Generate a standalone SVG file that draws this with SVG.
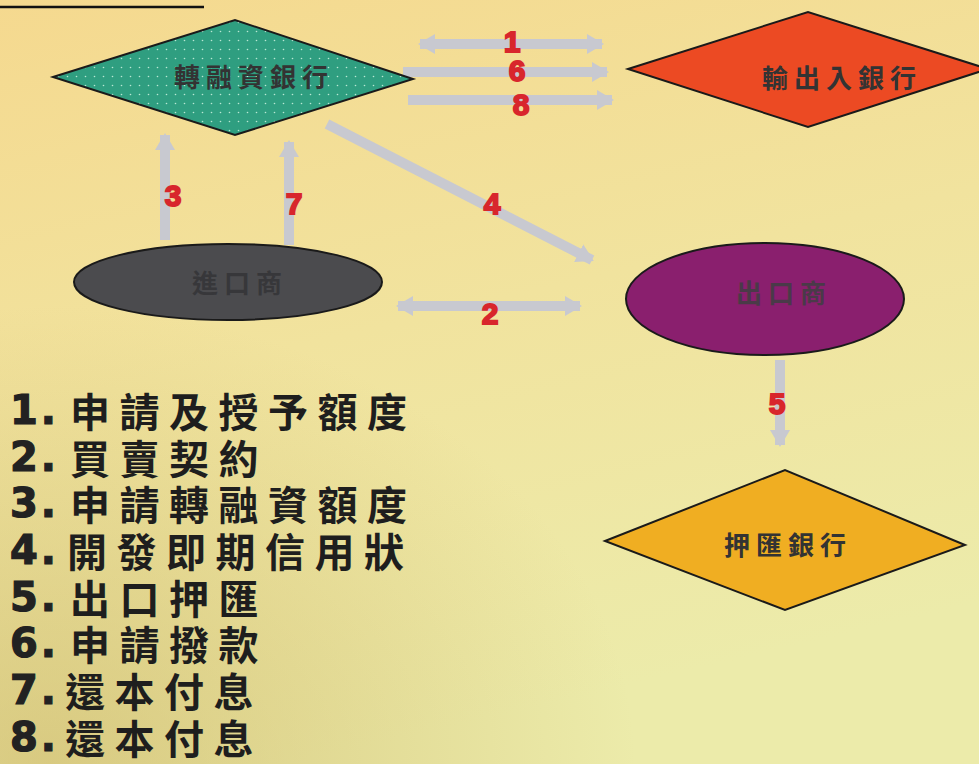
<svg xmlns="http://www.w3.org/2000/svg" width="979" height="764" viewBox="0 0 979 764">
<style>
.node{stroke:#1a1a1a;stroke-width:2}
.ntext{font-family:"Noto Sans CJK TC","Noto Sans CJK SC",sans-serif;font-weight:700;font-size:26px;fill:#333333;text-anchor:middle;letter-spacing:6px}
.conn{stroke:#c8c9d0;stroke-width:10;fill:none}
.num{font-family:"Liberation Sans",Arial,sans-serif;font-weight:700;font-size:30px;fill:#d8262c;text-anchor:middle;stroke:#d8262c;stroke-width:1.8}
.legd{font-family:"DejaVu Sans","Liberation Sans",sans-serif;font-weight:700;font-size:40px;fill:#222222;stroke:#222222;stroke-width:1.2;letter-spacing:3px}
.legc{font-family:"Noto Sans CJK TC","Noto Sans CJK SC",sans-serif;font-weight:700;font-size:40px;fill:#1e1e1e;letter-spacing:9.5px}
</style>
<defs>
<linearGradient id="bg" x1="0" y1="0" x2="0.3" y2="1">
<stop offset="0" stop-color="#f5d98f"/>
<stop offset="0.5" stop-color="#f1e39e"/>
<stop offset="1" stop-color="#ecebaa"/>
</linearGradient>
<radialGradient id="shade" cx="0.05" cy="1" r="0.6">
<stop offset="0" stop-color="#c8b060" stop-opacity="0.55"/>
<stop offset="1" stop-color="#c8b060" stop-opacity="0"/>
</radialGradient>
<pattern id="dots" width="9" height="9" patternUnits="userSpaceOnUse">
<rect width="9" height="9" fill="#2f9e80"/>
<circle cx="4.5" cy="4.5" r="0.8" fill="#b8e8d4"/>
</pattern>
<marker id="ah" markerUnits="userSpaceOnUse" markerWidth="17" markerHeight="20" refX="15" refY="10" orient="auto-start-reverse">
<path d="M0,0 L17,10 L0,20 z" fill="#c8c9d0"/>
</marker>
</defs>
<rect width="979" height="764" fill="url(#bg)"/>
<rect width="979" height="764" fill="url(#shade)"/>
<line x1="0" y1="7" x2="204" y2="7" stroke="#111" stroke-width="2.5"/>

<g id="connectors">
<line class="conn" x1="420" y1="44" x2="602" y2="44" marker-start="url(#ah)" marker-end="url(#ah)"/>
<line class="conn" x1="403" y1="72" x2="607" y2="72" marker-end="url(#ah)"/>
<line class="conn" x1="408" y1="100" x2="612" y2="100" marker-end="url(#ah)"/>
<line class="conn" x1="165" y1="240" x2="165" y2="135" marker-end="url(#ah)"/>
<line class="conn" x1="289" y1="245" x2="289" y2="142" marker-end="url(#ah)"/>
<line class="conn" x1="327" y1="124" x2="592" y2="260" marker-end="url(#ah)"/>
<line class="conn" x1="398" y1="306" x2="580" y2="306" marker-start="url(#ah)" marker-end="url(#ah)"/>
<line class="conn" x1="780" y1="360" x2="780" y2="445" marker-end="url(#ah)"/>
<text class="num" x="512" y="52">1</text>
<text class="num" x="517" y="81">6</text>
<text class="num" x="521" y="115">8</text>
<text class="num" x="173" y="206">3</text>
<text class="num" x="294" y="214">7</text>
<text class="num" x="492" y="214">4</text>
<text class="num" x="490" y="324">2</text>
<text class="num" x="777" y="414">5</text>
</g>

<g id="node-zhuanrongzi">
<polygon class="node" points="53,77 235,20 413,79 235,135" fill="url(#dots)"/>
<text class="ntext" x="254" y="87">轉融資銀行</text>
</g>
<g id="node-shuchuru">
<polygon class="node" points="628,69 808,12 988,69 808,127" fill="#ec4a23"/>
<text class="ntext" x="842" y="88">輸出入銀行</text>
</g>
<g id="node-jinkou">
<ellipse class="node" cx="228" cy="282" rx="154" ry="38" fill="#4b4b4e"/>
<text class="ntext" x="240" y="293" style="fill:#37373a">進口商</text>
</g>
<g id="node-chukou">
<ellipse class="node" cx="765" cy="299" rx="139" ry="56" fill="#8a1f6e"/>
<text class="ntext" x="784" y="303" style="fill:#4a3a48">出口商</text>
</g>
<g id="node-yahui">
<polygon class="node" points="605,541 785,470 965,545 785,610" fill="#f0ae22"/>
<text class="ntext" x="788" y="555">押匯銀行</text>
</g>

<g id="legend">
<text class="legd" x="10" y="424">1.</text><text class="legc" x="70" y="427">申請及授予額度</text>
<text class="legd" x="10" y="471">2.</text><text class="legc" x="70" y="474">買賣契約</text>
<text class="legd" x="10" y="517">3.</text><text class="legc" x="70" y="520">申請轉融資額度</text>
<text class="legd" x="10" y="564">4.</text><text class="legc" x="67" y="567">開發即期信用狀</text>
<text class="legd" x="10" y="611">5.</text><text class="legc" x="70" y="614">出口押匯</text>
<text class="legd" x="10" y="657">6.</text><text class="legc" x="70" y="660">申請撥款</text>
<text class="legd" x="10" y="704">7.</text><text class="legc" x="65" y="707">還本付息</text>
<text class="legd" x="10" y="751">8.</text><text class="legc" x="65" y="754">還本付息</text>
</g>
</svg>
